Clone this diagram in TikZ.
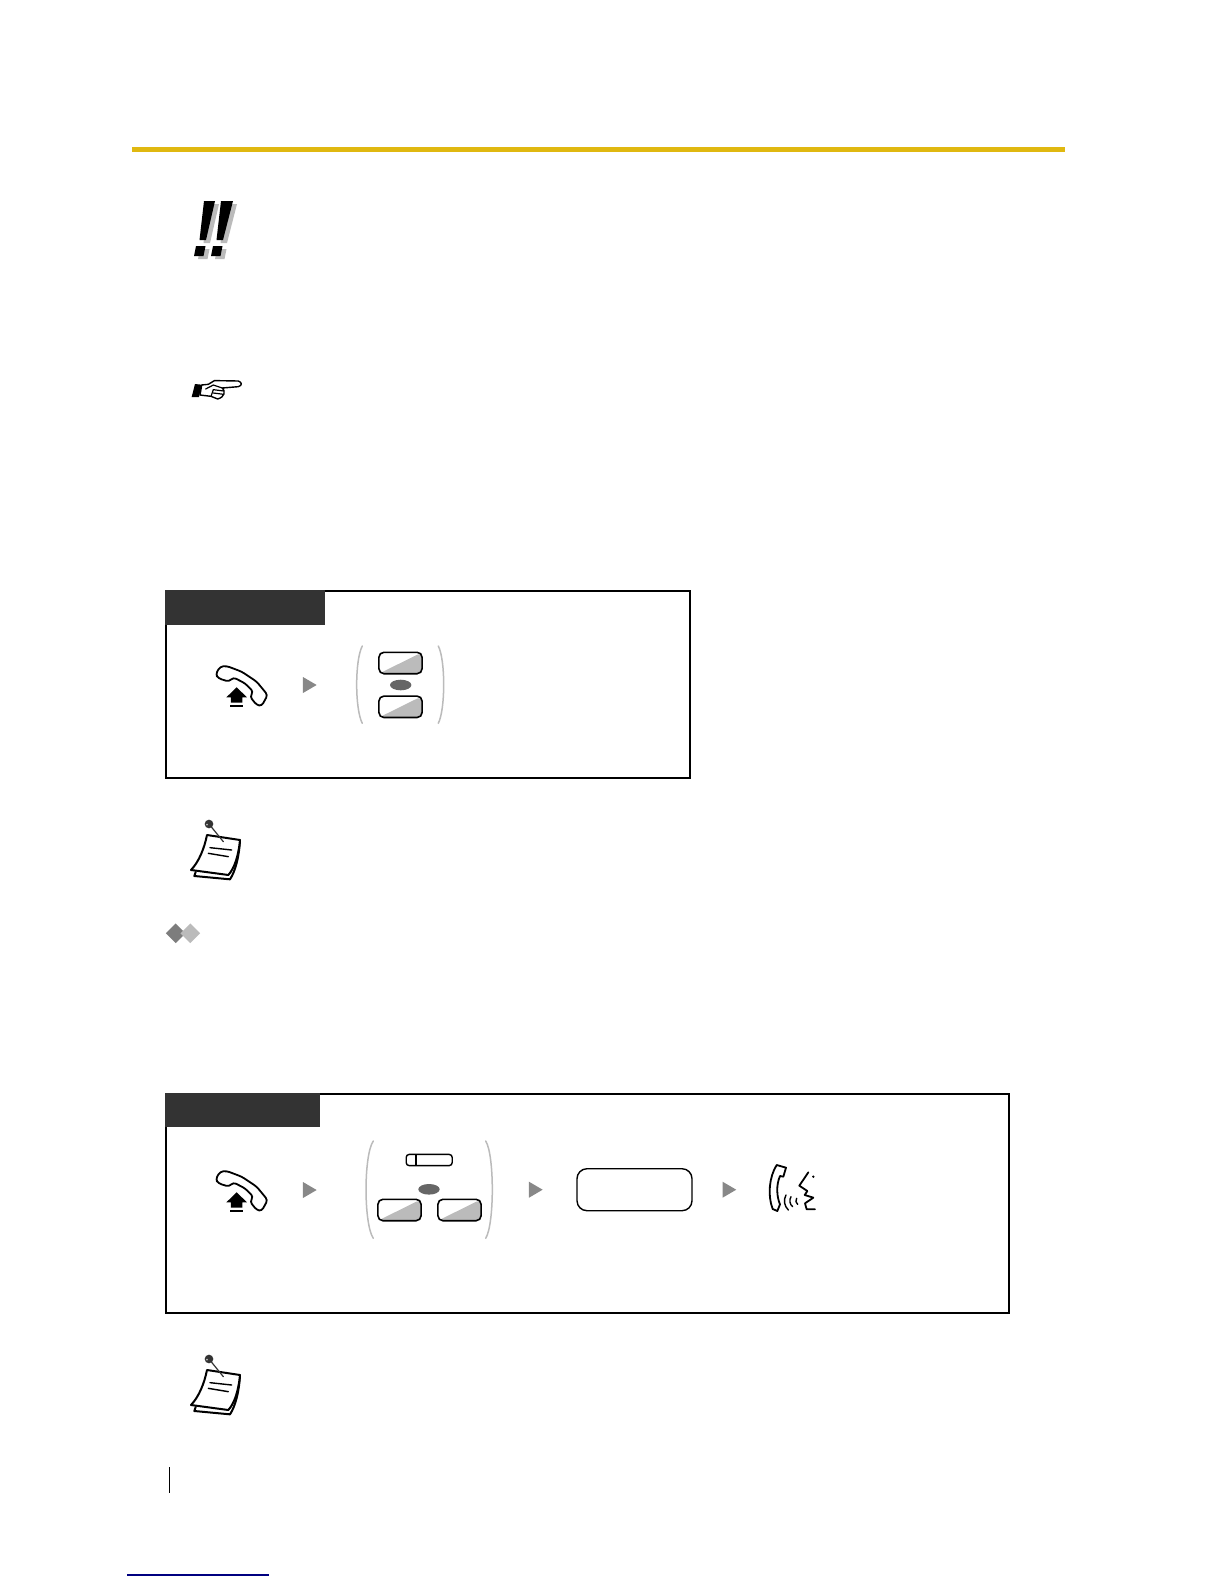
\documentclass[tikz,border=0pt]{standalone}
\usepackage{xcolor}
\usepackage{tikz}
\usetikzlibrary{shapes.geometric, positioning}
\definecolor{mybar}{RGB}{224,184,16}
\definecolor{myhdr}{RGB}{51,51,51}
\definecolor{mygrey}{RGB}{136,136,136}
\definecolor{mylight}{RGB}{187,187,187}
\definecolor{myoval}{RGB}{102,102,102}
\definecolor{mynavy}{RGB}{0,0,128}
\tikzset{
  frame/.style={rectangle, draw=black, line width=1pt, inner sep=0pt, anchor=north west},
  hdrbar/.style={rectangle, fill=myhdr, inner sep=0pt, anchor=north west},
  softkey/.style={rectangle, draw=black, line width=0.8pt, inner sep=0pt,
    minimum width=21.6cm/28.45, minimum height=10.7cm/28.45, rounded corners=2.5pt,
    path picture={\fill[mylight] (path picture bounding box.south west)
      -- (path picture bounding box.north east)
      -- (path picture bounding box.south east) -- cycle;}},
  orkey/.style={ellipse, fill=myoval, inner sep=0pt, minimum width=10.7pt, minimum height=5.3pt},
  steparrow/.style={isosceles triangle, isosceles triangle stretches, fill=mygrey, inner sep=0pt,
    minimum width=8pt, minimum height=6.85pt, anchor=apex},
  bracket/.style={color=mylight, line width=0.75pt, line cap=round},
  icon/.style={line width=0.8pt, line join=round, line cap=round}
}
% lifted handset with the arrow under it
\newcommand{\liftset}[1]{
  \begin{scope}[shift={(155,#1)}, scale=0.3333]
    \draw[icon, fill=white, line width=0.9pt, rounded corners=1.5pt]
      (182,283) -- (195,260) -- (215,258) -- (260,275) -- (305,305) -- (338,345)
      -- (320,378) -- (305,375) -- (285,350) -- (295,335) -- (270,310) -- (235,292)
      -- (222,305) -- (190,295) -- cycle;
    \fill[black] (245,322) -- (276,352) -- (262,352) -- (262,368) -- (228,368)
      -- (228,352) -- (214,352) -- cycle;
    \fill[black] (225,374) rectangle (265,380);
  \end{scope}
}
% memo sheet with its pin
\newcommand{\memosheet}[1]{
  \begin{scope}[shift={(185,#1)}, scale=0.3333]
    \draw[icon, line width=1pt] (165,90) .. controls (162,145) and (150,185) .. (135,208)
      -- (28,198) -- (32,186);
    \draw[icon, fill=white, line width=1pt] (66,75) -- (165,90)
      .. controls (160,140) and (148,175) .. (130,195) -- (18,180)
      .. controls (42,155) and (58,115) .. (66,75) -- cycle;
    \draw[icon, line width=0.7pt] (75,113) -- (140,120);
    \draw[icon, line width=0.7pt] (70,130) -- (130,140);
    \draw[icon, line width=0.6pt, color=myhdr] (72,42) -- (115,95);
    \fill[myhdr] (72,42) circle (13);
    \fill[mylight] (66,44) circle (3);
  \end{scope}
}
\begin{document}
\begin{tikzpicture}[x=0.5pt, y=-0.5pt]
  \useasboundingbox (0,0) rectangle (1224,1584);
  \fill[white] (0,0) rectangle (1224,1584);

  % Top rule
  \fill[mybar] (132,147) rectangle (1065,152);

  % Exclamation marks
  \begin{scope}[shift={(4,3)}]
    \fill[mylight] (204,201) -- (215,201) -- (206,240) -- (199.5,240) -- cycle;
    \fill[mylight] (196,246) -- (205.5,246) -- (203.5,256) -- (194,256) -- cycle;
    \fill[mylight] (221,201) -- (233,201) -- (223,240) -- (216.5,240) -- cycle;
    \fill[mylight] (213,246) -- (222.5,246) -- (220.5,256) -- (211,256) -- cycle;
  \end{scope}
  \fill[black] (204,201) -- (215,201) -- (206,240) -- (199.5,240) -- cycle;
  \fill[black] (196,246) -- (205.5,246) -- (203.5,256) -- (194,256) -- cycle;
  \fill[black] (221,201) -- (233,201) -- (223,240) -- (216.5,240) -- cycle;
  \fill[black] (213,246) -- (222.5,246) -- (220.5,256) -- (211,256) -- cycle;

  % Pointing hand
  \begin{scope}[shift={(185,375)}, scale=0.3333]
    \fill[black] (30,27) -- (50,29) -- (42,66) -- (20,66) -- cycle;
    \draw[icon, fill=white, line width=0.7pt] (50,30) -- (70,28) -- (88,17) -- (100,17) -- (160,18)
      .. controls (172,22) and (172,32) .. (160,35) -- (112,39)
      .. controls (122,48) and (120,66) .. (98,72) -- (78,64) -- (45,60) -- cycle;
    \draw[icon, line width=0.6pt] (62,42) -- (85,30) -- (112,39);
    \draw[icon, line width=0.6pt] (85,44) -- (116,48);
    \draw[icon, line width=0.6pt] (85,54) -- (116,58);
    \draw[icon, line width=0.6pt] (85,44) -- (78,64);
  \end{scope}

  % Box 1
  \node[frame, minimum width=262pt, minimum height=93.4pt] (box1) at (165,590) {};
  \node[hdrbar, minimum width=80pt, minimum height=17.5pt] (hdr1) at (165,590) {};
  \liftset{580}
  \node[steparrow] (arr1) at (317.7,685) {};
  \draw[bracket] (362.3,646) .. controls (354.8,660) and (354.8,709) .. (362.3,723.3);
  \draw[bracket] (438.3,646) .. controls (445.5,660) and (445.5,709) .. (438.3,723.3);
  \node[softkey] (keya) at (400.5,663) {};
  \node[orkey] (ora) at (400.7,685) {};
  \node[softkey] (keyb) at (400.5,706.8) {};

  % Memo and diamonds
  \memosheet{810}
  \node[diamond, aspect=1, fill=myoval!85!white, inner sep=0pt, minimum size=10pt] (dia1) at (175.7,933.3) {};
  \node[diamond, aspect=1, fill=mylight, inner sep=0pt, minimum size=10pt] (dia2) at (190.3,933.3) {};

  % Box 2
  \node[frame, minimum width=421.5pt, minimum height=109.5pt] (box2) at (165,1093) {};
  \node[hdrbar, minimum width=77.5pt, minimum height=17pt] (hdr2) at (165,1093) {};
  \liftset{1085}
  \node[steparrow] (arr2) at (317.7,1190) {};
  \draw[bracket] (373.3,1141) .. controls (363.6,1155) and (363.6,1224) .. (373.3,1238.3);
  \draw[bracket] (485.7,1141) .. controls (494.5,1155) and (494.5,1224) .. (485.7,1238.3);
  \node[rectangle, draw=black, line width=0.7pt, rounded corners=1.5pt, inner sep=0pt,
    minimum width=23pt, minimum height=5.6pt] (slot) at (429.2,1160) {};
  \draw[line width=0.7pt] (416,1154.4) -- (416,1165.6);
  \node[orkey] (orb) at (429,1189.3) {};
  \node[softkey] (keyc) at (399.5,1210) {};
  \node[softkey] (keyd) at (459.5,1210) {};
  \node[steparrow] (arr3) at (543.7,1189.7) {};
  \node[rectangle, draw=black, line width=0.7pt, rounded corners=5pt, inner sep=0pt,
    minimum width=57.5pt, minimum height=21pt] (field) at (634.5,1189.7) {};
  \node[steparrow] (arr4) at (737.3,1189.7) {};

  % Talking handset
  \begin{scope}[shift={(760,1155)}, scale=0.3333]
    \draw[icon, line width=0.9pt] (50,30) -- (78,38) -- (70,65) -- (60,63)
      .. controls (48,90) and (50,125) .. (60,148) -- (52,168) -- (38,162)
      .. controls (22,120) and (28,65) .. (50,30) -- cycle;
    \draw[icon, line width=0.9pt] (145,52) -- (118,92) -- (142,108) -- (134,120) -- (160,128)
      -- (135,145) -- (140,163) -- (165,163);
    \fill[black] (160,65) circle (4);
    \draw[icon, line width=0.7pt] (78,120) .. controls (70,135) and (72,152) .. (85,165);
    \draw[icon, line width=0.7pt] (93,125) .. controls (87,135) and (89,148) .. (98,155);
    \draw[icon, line width=0.7pt] (110,130) .. controls (106,137) and (107,143) .. (113,148);
  \end{scope}

  % Memo 2
  \memosheet{1345}

  % Page foot
  \draw[line width=0.6pt] (169.3,1467) -- (169.3,1493);
  \draw[color=mynavy, line width=0.6pt] (127,1575) -- (269,1575);
\end{tikzpicture}
\end{document}
